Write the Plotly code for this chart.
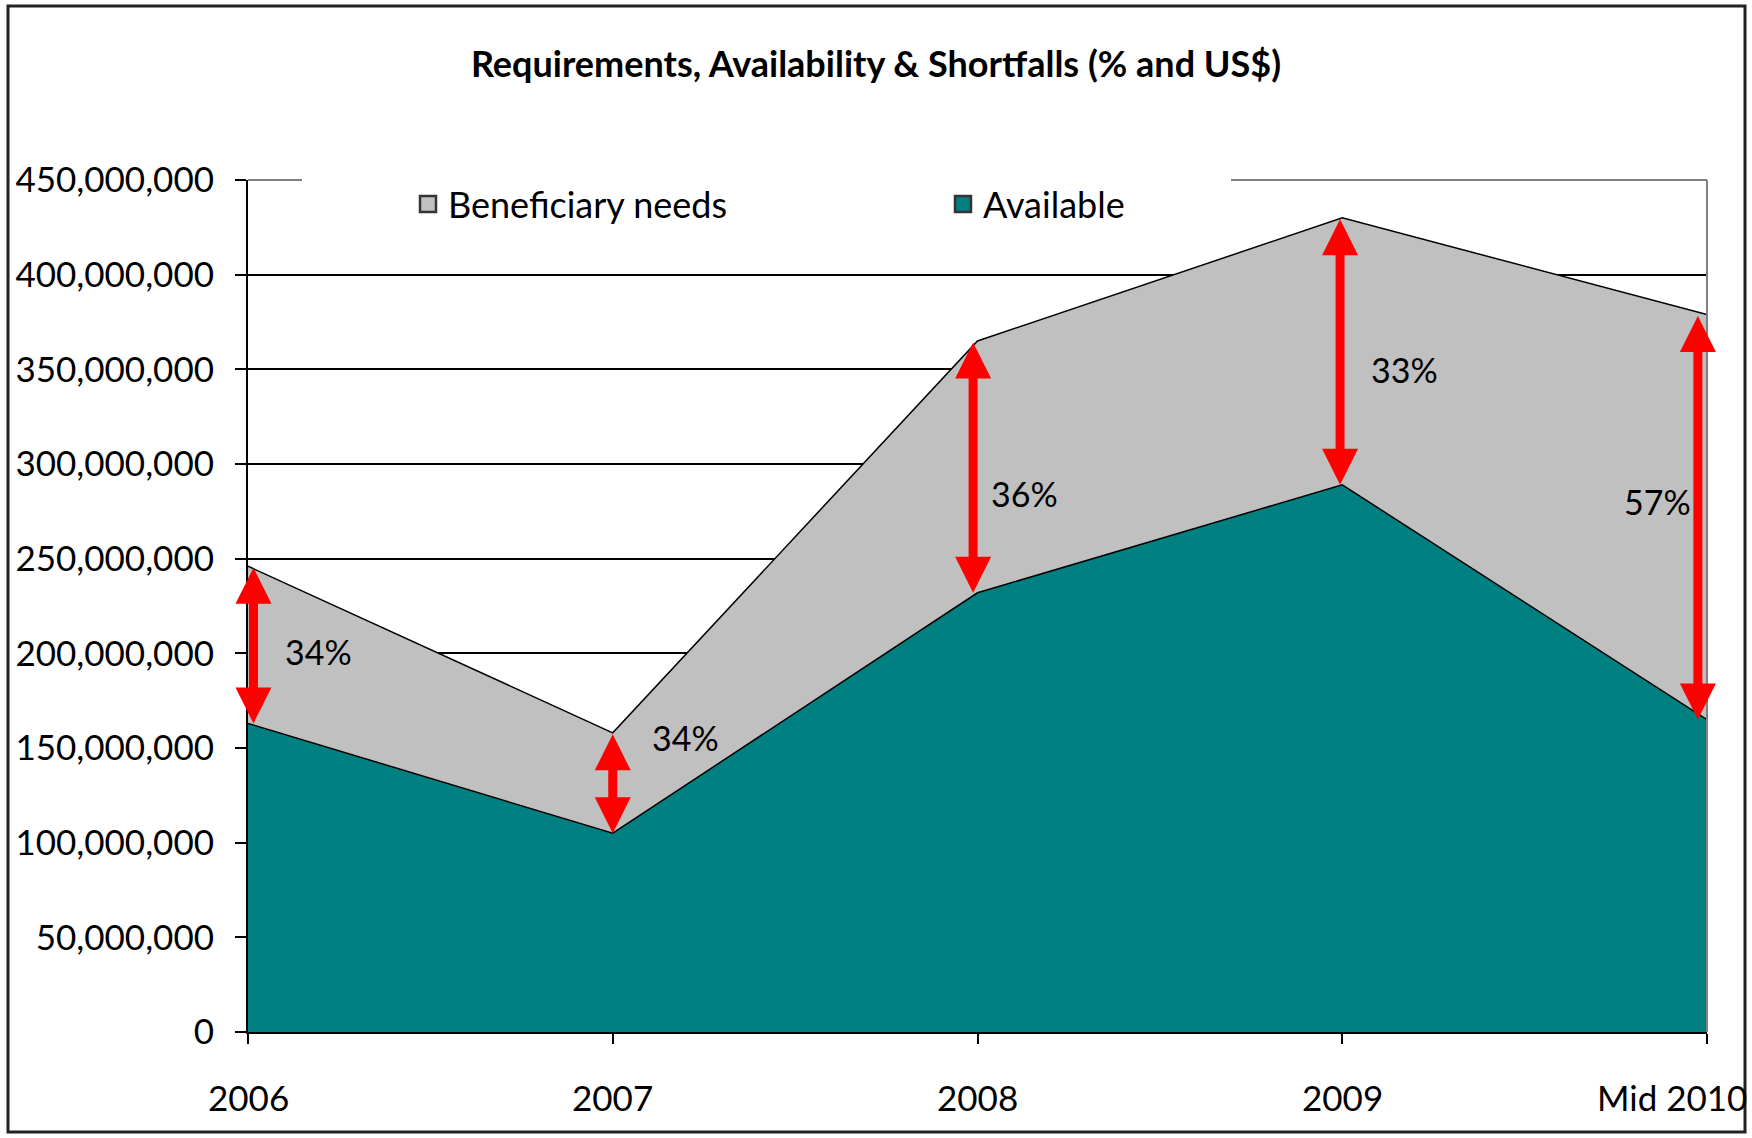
import plotly.graph_objects as go

# ---------------- data ----------------
categories = ["2006", "2007", "2008", "2009", "Mid 2010"]
beneficiary_needs = [246e6, 158e6, 365e6, 430e6, 379e6]
available = [163e6, 105e6, 232e6, 289e6, 165e6]
shortfall_labels = ["34%", "34%", "36%", "33%", "57%"]
y_ticks = list(range(0, 450_000_001, 50_000_000))

# ---------------- layout constants ----------------
W, H = 1752, 1138
ML, MR, MT, MB = 248, 45, 180, 106
PW, PH = W - ML - MR, H - MT - MB


def px_x(p):
    return (p - ML) / PW


def px_y(p):
    return (H - MB - p) / PH


FONT = "Lato"
TEAL = "#008080"
GREY = "#C0C0C0"

# arrow x offsets (category units) and label placements
arrow_dx = [0.015, 0.0, -0.012, -0.006, -0.025]
label_dx = [0.193, 0.199, 0.129, 0.172, -0.135]
label_y = [201e6, 155.5e6, 284.5e6, 350e6, 280e6]

xs = list(range(len(categories)))

fig = go.Figure()
fig.add_trace(go.Scatter(x=xs, y=available, mode="lines", fill="tozeroy",
                         fillcolor=TEAL, line=dict(color="black", width=1.5),
                         showlegend=False, hoverinfo="skip"))
fig.add_trace(go.Scatter(x=xs, y=beneficiary_needs, mode="lines", fill="tonexty",
                         fillcolor=GREY, line=dict(color="black", width=1.5),
                         showlegend=False, hoverinfo="skip"))
# legend proxies
fig.add_trace(go.Scatter(x=[None], y=[None], mode="markers", name="Beneficiary needs",
                         marker=dict(symbol="square", size=24, color=GREY,
                                     line=dict(color="#333333", width=2.5))))
fig.add_trace(go.Scatter(x=[None], y=[None], mode="markers", name="Available",
                         marker=dict(symbol="square", size=24, color=TEAL,
                                     line=dict(color="#333333", width=2.5))))

annotations = []
# red double arrows
for i, (n, a) in enumerate(zip(beneficiary_needs, available)):
    annotations.append(dict(
        x=i + arrow_dx[i], y=a, ax=i + arrow_dx[i], ay=n,
        xref="x", yref="y", axref="x", ayref="y", text="",
        showarrow=True, arrowside="end+start", arrowhead=2, startarrowhead=2,
        arrowsize=0.8, startarrowsize=0.8, arrowwidth=9, arrowcolor="#FF0000"))
# percentage labels
for i, t in enumerate(shortfall_labels):
    annotations.append(dict(x=i + label_dx[i], y=label_y[i], xref="x", yref="y",
                            text=t, showarrow=False,
                            font=dict(family=FONT, size=34, color="black")))
# x category labels
for i, c in enumerate(categories):
    last = i == len(categories) - 1
    annotations.append(dict(x=i, y=px_y(1097), xref="x", yref="paper", text=c,
                            showarrow=False, yanchor="middle",
                            xanchor="right" if last else "center",
                            xshift=42 if last else 0,
                            font=dict(family=FONT, size=35, color="black")))

shapes = [
    # plot-area border (top & right, grey)
    dict(type="line", xref="paper", yref="paper", x0=0, x1=1, y0=1, y1=1,
         line=dict(color="#808080", width=2), layer="above"),
    dict(type="line", xref="paper", yref="paper", x0=1, x1=1, y0=0, y1=1,
         line=dict(color="#808080", width=2), layer="above"),
    # legend background
    dict(type="rect", xref="paper", yref="paper", x0=px_x(302), x1=px_x(1231),
         y0=px_y(228), y1=px_y(172), fillcolor="white", line=dict(width=0),
         layer="above"),
    # outer chart border
    dict(type="rect", xref="paper", yref="paper", x0=px_x(8), x1=px_x(1745),
         y0=px_y(1132), y1=px_y(6), line=dict(color="#222222", width=3),
         fillcolor="rgba(0,0,0,0)", layer="above"),
]

fig.update_layout(
    width=W, height=H,
    margin=dict(l=ML, r=MR, t=MT, b=MB),
    paper_bgcolor="white", plot_bgcolor="white",
    font=dict(family=FONT, size=34, color="black"),
    title=dict(text="<b>Requirements, Availability & Shortfalls (% and US$)</b>",
               x=0.5, xref="container", xanchor="center",
               y=1 - 64 / H, yref="container", yanchor="middle",
               font=dict(family=FONT, size=36, color="black")),
    legend=dict(orientation="h", x=px_x(408), y=px_y(204), xanchor="left",
                yanchor="middle", bgcolor="rgba(0,0,0,0)", traceorder="normal",
                font=dict(family=FONT, size=36, color="black"),
                entrywidth=490, entrywidthmode="pixels"),
    xaxis=dict(range=[0, len(categories) - 1], tickvals=xs, showticklabels=False,
               showgrid=False, zeroline=False, showline=True, linecolor="black",
               linewidth=2, ticks="outside", ticklen=10, tickwidth=2,
               tickcolor="black"),
    yaxis=dict(range=[0, 450e6], tickvals=y_ticks, tickformat=",d",
               showgrid=True, gridcolor="black", gridwidth=1.5, zeroline=False,
               showline=True, linecolor="black", linewidth=2, ticks="outside",
               ticklen=11, tickwidth=2, tickcolor="black", ticklabelstandoff=14,
               tickfont=dict(family=FONT, size=35, color="black")),
    annotations=annotations,
    shapes=shapes,
)

fig.write_html("out.html", config={"displayModeBar": False},
               post_script="document.body.style.margin='0';document.body.style.padding='0';")
